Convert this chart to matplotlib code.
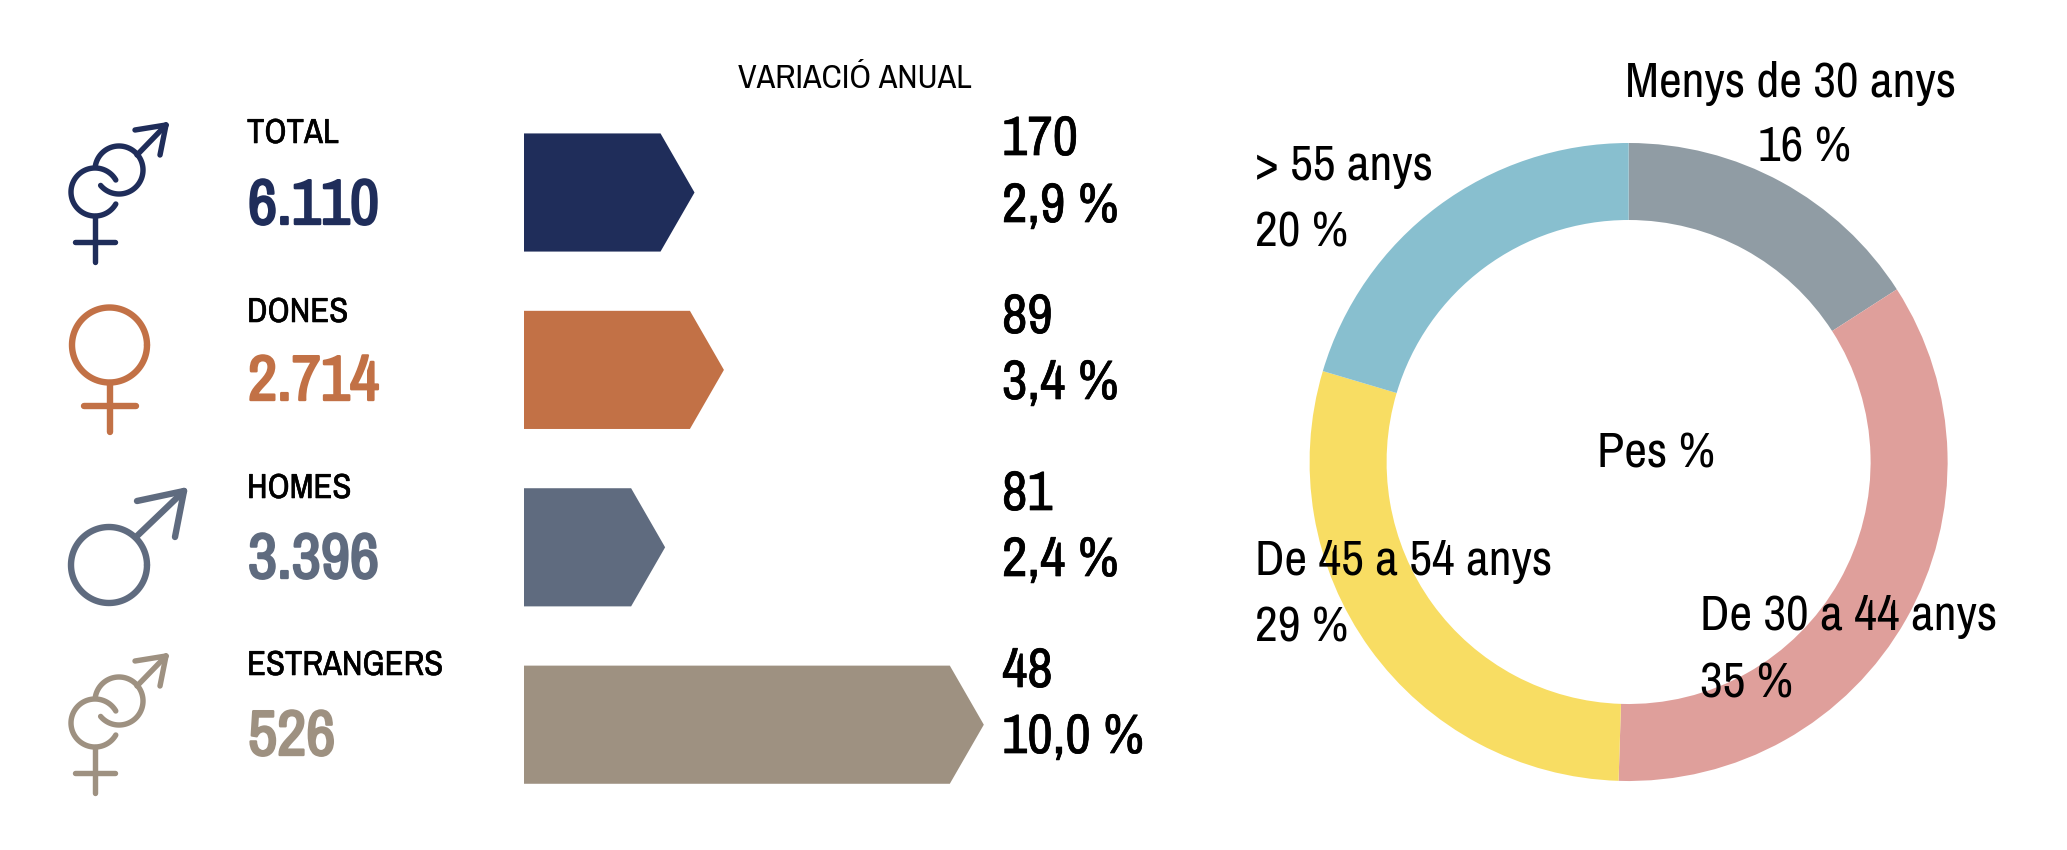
import numpy as np
import matplotlib
matplotlib.use("Agg")
import matplotlib.pyplot as plt
import matplotlib.patheffects as pe
from matplotlib.patches import Polygon

W, H = 2067, 850

# --- data -------------------------------------------------------------
groups = ["TOTAL", "DONES", "HOMES", "ESTRANGERS"]
group_totals = ["6.110", "2.714", "3.396", "526"]
change_abs = ["170", "89", "81", "48"]
change_pct = ["2,9 %", "3,4 %", "2,4 %", "10,0 %"]
# drawn arrow length, in %; the last arrow is cut short in the original
arrow_length = [2.9, 3.4, 2.4, 7.82]
group_colors = ["#1F2D5A", "#C27146", "#5F6B7F", "#9E9181"]

age_labels = ["Menys de 30 anys", "De 30 a 44 anys", "De 45 a 54 anys", "> 55 anys"]
age_share = [15.9, 34.6, 29.1, 20.4]
age_share_text = ["16 %", "35 %", "29 %", "20 %"]
age_colors = ["#909CA4", "#DF9F9B", "#F8DD63", "#88BFCF"]

plt.rcParams["font.family"] = ["Archivo Narrow", "Liberation Sans Narrow", "Liberation Sans", "DejaVu Sans"]

fig = plt.figure(figsize=(W / 100, H / 100), dpi=100, facecolor="white")


def px_axes(left, top, right, bottom, **kw):
    return fig.add_axes([left / W, 1 - bottom / H, (right - left) / W, (bottom - top) / H], **kw)


# --- arrow bars -------------------------------------------------------
PX_PER_PCT = 58.8
bar_ax = px_axes(524, 103.8, 524 + 10 * PX_PER_PCT, 813.4)
bar_ax.set_xlim(0, 10)
bar_ax.set_ylim(3.5, -0.5)
bar_ax.axis("off")
tip = 34 / PX_PER_PCT
half = 0.333
for i, (v, c) in enumerate(zip(arrow_length, group_colors)):
    bar_ax.add_patch(Polygon([(0, i - half), (v - tip, i - half), (v, i),
                              (v - tip, i + half), (0, i + half)],
                             closed=True, fc=c, ec="none"))

# --- donut ------------------------------------------------------------
R = 319
cx, cy = 1628.6, 462
pie_ax = px_axes(cx - R, cy - R, cx + R, cy + R)
pie_ax.pie(age_share, colors=age_colors, startangle=90, counterclock=False, radius=1,
           wedgeprops=dict(width=1 - 242 / 319, linewidth=0))
pie_ax.set_xlim(-1, 1)
pie_ax.set_ylim(-1, 1)

# --- overlay in pixels: icons and text --------------------------------
ov = px_axes(0, 0, W, H, zorder=5)
ov.set_xlim(0, W)
ov.set_ylim(H, 0)
ov.axis("off")
ov.patch.set_alpha(0)


def stroke(xs, ys, c, lw=3.9):
    ov.plot(xs, ys, color=c, lw=lw, solid_capstyle="round", solid_joinstyle="round")


def ring(x, y, r, c, a0=0, a1=360, lw=3.9):
    t = np.radians(np.linspace(a0, a1, 120))
    stroke(x + r * np.cos(t), y + r * np.sin(t), c, lw)


def venus(x, y, r, stem_end, bar_y, bar_half, c, a0=0, a1=360, lw=3.9):
    ring(x, y, r, c, a0, a1, lw)
    stroke([x, x], [y + r, stem_end], c, lw)
    stroke([x - bar_half, x + bar_half], [bar_y, bar_y], c, lw)


def mars(x, y, r, shaft, tip_xy, barb1, barb2, c, a0=0, a1=360, lw=3.9):
    ring(x, y, r, c, a0, a1, lw)
    stroke([shaft[0], tip_xy[0]], [shaft[1], tip_xy[1]], c, lw)
    stroke([barb1[0], tip_xy[0]], [barb1[1], tip_xy[1]], c, lw)
    stroke([barb2[0], tip_xy[0]], [barb2[1], tip_xy[1]], c, lw)


def both(dy, c):
    venus(95, 192 + dy, 24, 262 + dy, 242 + dy, 20, c, a0=30, a1=330)
    mars(119, 170 + dy, 24, (137, 155 + dy), (166, 125 + dy), (135, 130 + dy),
         (160, 155 + dy), c, a0=-170, a1=140)


both(0, group_colors[0])
both(531, group_colors[3])
venus(109.5, 345, 37.5, 432, 406, 26, group_colors[1], lw=4.6)
mars(109, 565, 38, (136, 537), (184, 491), (137, 501), (175, 537), group_colors[2], lw=4.6)


def txt(x, y, s, size, color="black", heavy=0.0, ha="left"):
    t = ov.text(x, y, s, fontsize=size, color=color, ha=ha, va="baseline", zorder=10)
    if heavy:
        t.set_path_effects([pe.withStroke(linewidth=heavy, foreground=color)])


txt(738, 88, "VARIACIÓ ANUAL", 24.5)

name_y = [143, 322, 498, 675]
total_y = [224, 400, 578, 755]
abs_y = [155, 333, 510, 687]
pct_y = [222, 399, 576, 753]
for i, g in enumerate(groups):
    txt(247, name_y[i], g, 25, heavy=0.4)
    txt(248, total_y[i], group_totals[i], 46, color=group_colors[i], heavy=1.7)
    txt(1002, abs_y[i], change_abs[i], 40, heavy=0.5)
    txt(1002, pct_y[i], change_pct[i], 40, heavy=0.5)

lab_pos = [(1790.5, 96.5, 161.5, "center"), (1699.5, 630, 697.5, "left"),
           (1255, 574.5, 641, "left"), (1255, 180, 246.6, "left")]
for name, share, (x, y1, y2, ha) in zip(age_labels, age_share_text, lab_pos):
    txt(x, y1, name, 35.8, ha=ha)
    txt(x + (14 if ha == "center" else 0), y2, share, 35.8, ha=ha)
txt(1597, 467, "Pes %", 35.8)

fig.savefig("out.png", dpi=100, facecolor="white")
